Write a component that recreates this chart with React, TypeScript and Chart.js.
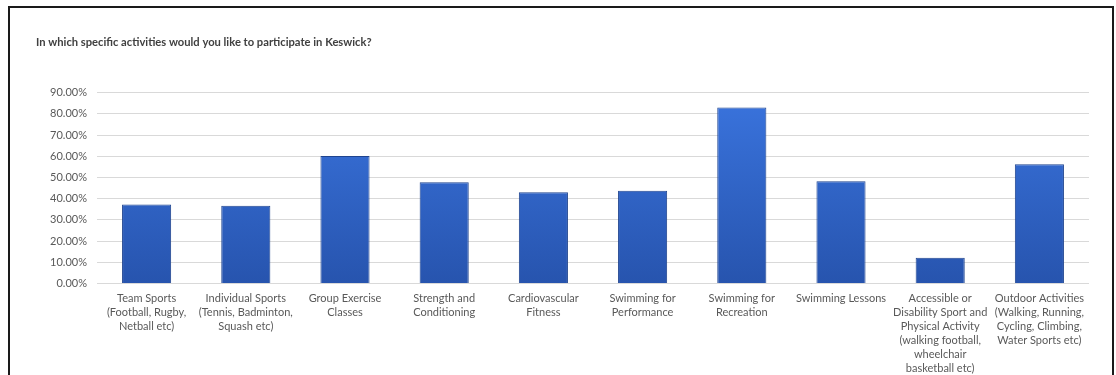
import React, { useEffect, useRef } from "react";
import { Chart, registerables } from "chart.js";

Chart.register(...registerables);

const TITLE = "In which specific activities would you like to participate in Keswick?";

const categories: string[][] = [
  ["Team Sports", "(Football, Rugby,", "Netball etc)"],
  ["Individual Sports", "(Tennis, Badminton,", "Squash etc)"],
  ["Group Exercise", "Classes"],
  ["Strength and", "Conditioning"],
  ["Cardiovascular", "Fitness"],
  ["Swimming for", "Performance"],
  ["Swimming for", "Recreation"],
  ["Swimming Lessons"],
  ["Accessible or", "Disability Sport and", "Physical Activity", "(walking football,", "wheelchair", "basketball etc)"],
  ["Outdoor Activities", "(Walking, Running,", "Cycling, Climbing,", "Water Sports etc)"],
];

const values: number[] = [37.2, 36.7, 60.1, 47.8, 43.0, 43.7, 83.0, 48.2, 12.2, 56.2];

const Y_MIN = 0;
const Y_MAX = 90;
const Y_STEP = 10;

const FONT = "Lato, 'Open Sans', sans-serif";

export default function App() {
  const canvasRef = useRef<HTMLCanvasElement | null>(null);

  useEffect(() => {
    const canvas = canvasRef.current;
    if (!canvas) return;
    const chart = new Chart(canvas, {
      type: "bar",
      data: {
        labels: categories,
        datasets: [
          {
            data: values,
            backgroundColor: (ctx: any) => {
              const area = ctx.chart.chartArea;
              if (!area) return "#2f62c9";
              const g = ctx.chart.ctx.createLinearGradient(0, area.top, 0, area.bottom);
              g.addColorStop(0, "#3a74de");
              g.addColorStop(1, "#2754ae");
              return g;
            },
            borderColor: "#1f448f",
            borderWidth: 1,
            barPercentage: 0.495,
            categoryPercentage: 1,
          },
        ],
      },
      options: {
        animation: false,
        responsive: false,
        maintainAspectRatio: false,
        layout: { padding: { left: 26, right: 23, top: 0, bottom: 0 } },
        plugins: {
          legend: { display: false },
          tooltip: { enabled: false },
          title: {
            display: true,
            text: TITLE,
            align: "start",
            color: "#404040",
            font: { family: FONT, size: 11.2, weight: "bold", lineHeight: 1.3 },
            padding: { top: 27, bottom: 43.1 },
          },
        },
        scales: {
          x: {
            grid: { display: false, drawTicks: false },
            border: { display: false },
            ticks: {
              color: "#595959",
              font: { family: FONT, size: 11, lineHeight: 14 / 11 },
              padding: 7.5,
              maxRotation: 0,
              minRotation: 0,
              autoSkip: false,
            },
            afterFit: (axis: any) => {
              axis.height = 91.5;
            },
          },
          y: {
            min: Y_MIN,
            max: Y_MAX,
            grid: { color: "#d9d9d9", lineWidth: 1, drawTicks: false },
            border: { display: false },
            ticks: {
              stepSize: Y_STEP,
              color: "#595959",
              font: { family: FONT, size: 11 },
              padding: 10,
              callback: (v: any) => Number(v).toFixed(2) + "%",
            },
            afterFit: (axis: any) => {
              axis.width = 61;
            },
          },
        },
      },
    });
    return () => chart.destroy();
  }, []);

  return (
    <div
      style={{
        position: "absolute",
        left: 8,
        top: 6,
        width: 1102,
        height: 367,
        borderTop: "2px solid #1a1a1a",
        borderLeft: "2px solid #1a1a1a",
        borderRight: "2px solid #1a1a1a",
        background: "#ffffff",
      }}
    >
      <canvas ref={canvasRef} width={1102} height={367} style={{ display: "block" }} />
    </div>
  );
}
